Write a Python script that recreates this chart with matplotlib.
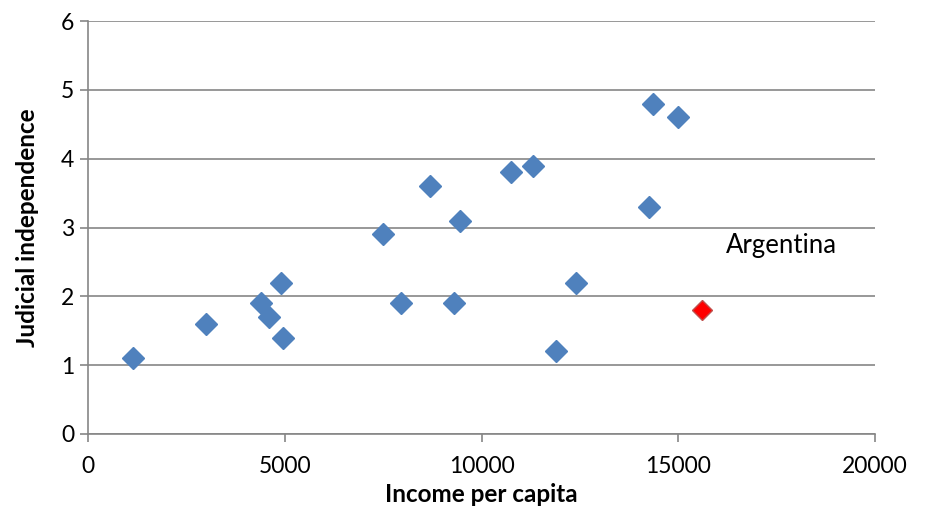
import matplotlib
matplotlib.use("Agg")
import matplotlib.pyplot as plt

income = [1150, 3000, 4400, 4600, 4900, 4950, 7500, 7950, 8700, 9450, 9300,
          10750, 11300, 11900, 12400, 14350, 14250, 15000]
judicial = [1.1, 1.6, 1.9, 1.7, 2.2, 1.4, 2.9, 1.9, 3.6, 3.1, 1.9,
            3.8, 3.9, 1.2, 2.2, 4.8, 3.3, 4.6]
arg_income = [15600]
arg_judicial = [1.8]
arg_label = "Argentina"
xticks = [0, 5000, 10000, 15000, 20000]
yticks = [0, 1, 2, 3, 4, 5, 6]

plt.rcParams['font.family'] = ['Lato', 'DejaVu Sans']
fig = plt.figure(figsize=(9.32, 5.13), dpi=100)
ax = fig.add_axes([88/932, 79/513, 787/932, 413/513])
grid_c = '#868686'
ax.set_xlim(0, 20000)
ax.set_ylim(0, 6)
ax.set_yticks(yticks)
ax.set_xticks(xticks)
ax.grid(axis='y', color=grid_c, linewidth=1.2, zorder=0)
ax.set_axisbelow(True)
for s in ['top', 'right']:
    ax.spines[s].set_visible(False)
for s in ['left', 'bottom']:
    ax.spines[s].set_color(grid_c)
    ax.spines[s].set_linewidth(1.2)
ax.tick_params(axis='both', colors=grid_c, length=6, width=1.2, labelsize=16.5,
               labelcolor='black')
ax.tick_params(axis='x', pad=10)
ax.tick_params(axis='y', pad=4)

ax.plot(income, judicial, linestyle='none', marker='D', markersize=11,
        color='#4F81BD', markeredgecolor='#4F81BD', zorder=3, clip_on=False)
ax.plot(arg_income, arg_judicial, linestyle='none', marker='D', markersize=9.8,
        color='#FF0000', markeredgecolor='#C0504D', zorder=4, clip_on=False)
ax.text(16200, 2.74, arg_label, fontsize=18.5, va='center', ha='left', color='black')

ax.set_xlabel('Income per capita', fontsize=17.5, fontweight='bold', va='center')
ax.xaxis.set_label_coords(0.5, (434 - 494) / 413)
ax.set_ylabel('Judicial independence', fontsize=17.5, fontweight='bold', va='center')
ax.yaxis.set_label_coords((28 - 88) / 787, 0.5)

fig.savefig('out.png', dpi=100)
